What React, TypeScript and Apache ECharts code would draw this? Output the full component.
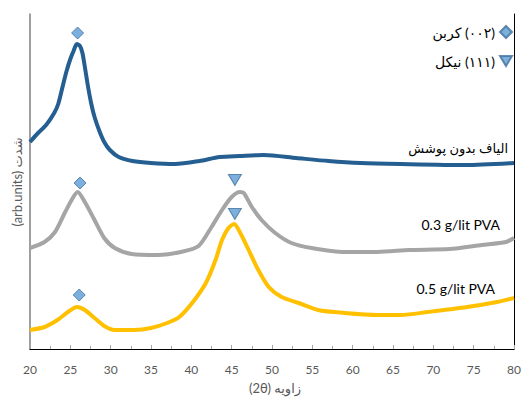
import React, { useEffect, useRef } from "react";
import * as echarts from "echarts";

// 2θ (degrees) and intensity (arb. units)
const blueX = [20, 21, 22, 23, 23.5, 24, 24.5, 25, 25.4, 25.8, 26.2, 26.5, 26.8, 27.2, 27.6, 28, 28.6, 29.2, 29.9, 31, 32.7, 35, 38, 41, 43.5, 46, 49, 53, 57, 61, 66, 74, 80];
const blueY = [207, 216, 224, 236, 245, 261, 277, 290, 298, 305, 303, 296, 282, 262, 245, 232, 218, 207, 199, 192, 188, 186, 185, 188, 192, 193, 194, 191, 188, 186, 185, 184, 186];

const grayX = [20, 21.8, 23.1, 24.3, 25.3, 25.9, 26.8, 28.0, 29.2, 30.5, 32.6, 35.8, 38.7, 40.9, 42.5, 43.8, 45.0, 46.0, 46.5, 47.5, 48.7, 50.4, 52.4, 54.9, 59, 63.1, 67, 72, 76, 79, 80];
const grayY = [101, 107, 117, 136, 151, 157, 147, 129, 111, 101, 95, 94, 97, 103, 122, 139, 152, 157, 156, 142, 129, 116, 106, 101, 97, 97, 99, 100, 104, 107, 111];

const yellowX = [20, 21.8, 23.4, 24.7, 25.8, 26.8, 28.0, 29.2, 30.5, 32.9, 35, 37, 38.5, 40.1, 41.8, 43, 43.8, 44.6, 45.3, 46.2, 47.1, 48.3, 49.6, 51.2, 53.3, 55.7, 59, 63.1, 66, 69.3, 74.2, 77.9, 80];
const yellowY = [19, 22, 29, 37, 42, 39, 31, 23, 19, 19, 21, 26, 32, 46, 66, 89, 109, 121, 125, 114, 99, 79, 62, 52, 46, 39, 36, 34, 34, 37, 42, 47, 51];

// peak markers
const carbonX = [25.9, 26.2, 26.1];
const carbonY = [316, 166, 54];
const nickelX = [45.4, 45.4];
const nickelY = [169, 135];

const seriesNames = ["الیاف بدون پوشش", "0.3 g/lit PVA", "0.5 g/lit PVA"];
const legendNames = ["کربن\u200E (۰۰۲)", "نیکل\u200E (۱۱۱)"];
const xTicks = [20, 25, 30, 35, 40, 45, 50, 55, 60, 65, 70, 75, 80];
const xTitle = "(2θ) زاویه";
const yTitle = "(arb.units) شدت";

const zip = (xs: number[], ys: number[]) => xs.map((x, i) => [x, ys[i]]);

export default function App() {
  const ref = useRef<HTMLDivElement>(null);
  useEffect(() => {
    if (!ref.current) return;
    const chart = echarts.init(ref.current, null, { renderer: "svg" });
    const font = "Lato, 'DejaVu Sans', sans-serif";
    const markerStyle = { color: "#5B9BD5", borderColor: "#41719C", borderWidth: 1 };
    const lineBase = { type: "line", showSymbol: false, smooth: 0.25, z: 2 };
    chart.setOption({
      animation: false,
      backgroundColor: "#ffffff",
      textStyle: { fontFamily: font },
      grid: { left: 30, right: 8, top: 14, bottom: 50 },
      legend: {
        data: legendNames,
        orient: "vertical",
        right: 6,
        top: 20,
        align: "right",
        itemWidth: 12,
        itemHeight: 12,
        itemGap: 15,
        textStyle: { fontSize: 14, color: "#000", fontFamily: font },
      },
      xAxis: [
        {
          type: "value",
          min: xTicks[0],
          max: xTicks[xTicks.length - 1],
          interval: 5,
          axisLine: { lineStyle: { color: "#BFBFBF", width: 1 } },
          axisTick: { inside: true, length: 4, lineStyle: { color: "#A6A6A6" } },
          minorTick: { show: true, splitNumber: 2, length: 3, lineStyle: { color: "#A6A6A6" } },
          splitLine: { show: false },
          axisLabel: { margin: 14, fontSize: 12, color: "#595959", fontFamily: font },
        },
        {
          type: "value",
          position: "top",
          min: 20,
          max: 80,
          axisLine: { show: true, lineStyle: { color: "#000", width: 1 } },
          axisTick: { show: false },
          axisLabel: { show: false },
          splitLine: { show: false },
        },
      ],
      yAxis: [
        {
          type: "value",
          min: 0,
          max: 335,
          axisLine: { show: true, lineStyle: { color: "#7F7F7F", width: 1.5 } },
          axisTick: { show: false },
          axisLabel: { show: false },
          splitLine: { show: false },
        },
        {
          type: "value",
          position: "right",
          min: 0,
          max: 335,
          axisLine: { show: true, lineStyle: { color: "#000", width: 1 } },
          axisTick: { show: false },
          axisLabel: { show: false },
          splitLine: { show: false },
        },
      ],
      series: [
        { ...lineBase, name: seriesNames[0], data: zip(blueX, blueY), lineStyle: { color: "#255E91", width: 4 } },
        { ...lineBase, name: seriesNames[1], data: zip(grayX, grayY), lineStyle: { color: "#A5A5A5", width: 4 } },
        { ...lineBase, name: seriesNames[2], data: zip(yellowX, yellowY), lineStyle: { color: "#FFC000", width: 4 } },
        {
          name: legendNames[0],
          type: "scatter",
          data: zip(carbonX, carbonY),
          symbol: "diamond",
          symbolSize: [12, 12],
          itemStyle: markerStyle,
          z: 5,
        },
        {
          name: legendNames[1],
          type: "scatter",
          data: zip(nickelX, nickelY),
          symbol: "path://M0,0L12,0L6,10Z",
          symbolSize: [13, 11],
          itemStyle: markerStyle,
          z: 5,
        },
      ],
      graphic: [
        {
          type: "text",
          x: 508,
          y: 148,
          style: { text: seriesNames[0], align: "right", verticalAlign: "middle", fontSize: 13, fill: "#000", fontFamily: font },
        },
        {
          type: "text",
          x: 500,
          y: 224,
          style: { text: seriesNames[1], align: "right", verticalAlign: "middle", fontSize: 14, fill: "#000", fontFamily: font },
        },
        {
          type: "text",
          x: 495,
          y: 288,
          style: { text: seriesNames[2], align: "right", verticalAlign: "middle", fontSize: 14, fill: "#000", fontFamily: font },
        },
        {
          type: "text",
          x: 275,
          y: 388,
          style: { text: xTitle, align: "center", verticalAlign: "middle", fontSize: 13, fill: "#595959", fontFamily: font },
        },
        {
          type: "text",
          x: 17,
          y: 182,
          rotation: Math.PI / 2,
          style: { text: yTitle, align: "center", verticalAlign: "middle", fontSize: 13, fill: "#595959", fontFamily: font },
        },
      ],
    });
    return () => chart.dispose();
  }, []);
  return <div ref={ref} style={{ width: 524, height: 399, position: "absolute", left: 0, top: 0 }} />;
}
